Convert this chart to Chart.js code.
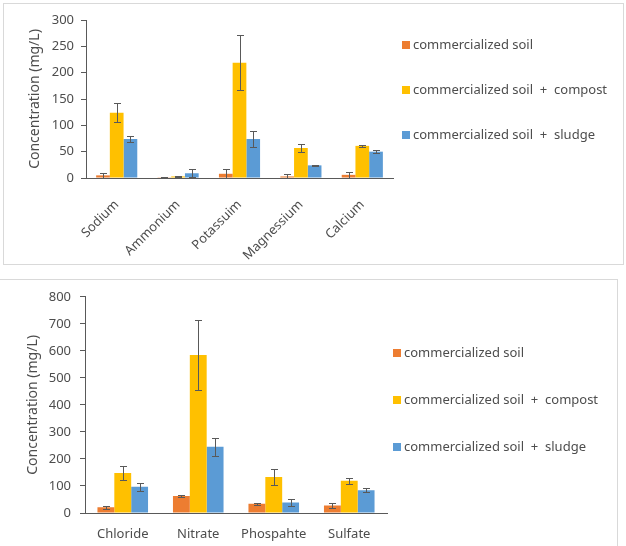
<!DOCTYPE html>
<html>
<head>
<meta charset="utf-8">
<script src="https://cdn.jsdelivr.net/npm/chart.js@4.4.1/dist/chart.umd.min.js"></script>
<style>
  html, body { margin: 0; padding: 0; background: #fff; }
  body { width: 626px; height: 546px; position: relative; overflow: hidden; }
  .frame { position: absolute; border: 1px solid #d9d9d9; box-sizing: border-box; }
  canvas { position: absolute; }
</style>
</head>
<body>
<div class="frame" style="left:3px;top:3px;width:621px;height:262px;"></div>
<div class="frame" style="left:-2px;top:279px;width:620px;height:280px;"></div>
<canvas id="cations" style="left:4px;top:4px;" width="618" height="259"></canvas>
<canvas id="anions" style="left:0px;top:280px;" width="616" height="266"></canvas>
<script>
// series shared by both panels
const seriesNames = ['commercialized soil', 'commercialized soil + compost', 'commercialized soil + sludge'];
const seriesColors = ['#ED7D31', '#FFC000', '#5B9BD5'];

// top panel: cations
const cationLabels = ['Sodium', 'Ammonium', 'Potassuim', 'Magnessium', 'Calcium'];
const cationSoil = [5, 0.5, 8, 3, 6];
const cationSoilErr = [5, 0.5, 9, 4, 6];
const cationCompost = [124, 3, 219, 57, 61];
const cationCompostErr = [18, 1.5, 52, 8, 2];
const cationSludge = [74, 9, 74, 24, 50];
const cationSludgeErr = [6, 8, 16, 1, 3];
const cationMax = 300;
const cationStep = 50;

// bottom panel: anions
const anionLabels = ['Chloride', 'Nitrate', 'Phospahte', 'Sulfate'];
const anionSoil = [21, 63, 34, 28];
const anionSoilErr = [6, 2, 3, 9];
const anionCompost = [148, 585, 133, 119];
const anionCompostErr = [27, 129, 29, 12];
const anionSludge = [97, 245, 39, 84];
const anionSludgeErr = [14, 33, 12, 8];
const anionMax = 800;
const anionStep = 100;

const axisColor = '#595959';
const textColor = '#4d4d4d';
const fontFamily = "'Noto Sans', 'Open Sans', sans-serif";

// error bars drawn on top of the bars, using the chart's own y scale
const errorBars = {
    id: 'errorBars',
    afterDatasetsDraw(chart) {
        const ctx = chart.ctx;
        const yScale = chart.scales.y;
        ctx.save();
        ctx.strokeStyle = '#595959';
        ctx.lineWidth = 1;
        chart.data.datasets.forEach((ds, i) => {
            const meta = chart.getDatasetMeta(i);
            meta.data.forEach((bar, j) => {
                const v = ds.data[j];
                const e = ds.errors[j];
                const yTop = Math.round(yScale.getPixelForValue(v + e)) + 0.5;
                const yBot = Math.round(yScale.getPixelForValue(Math.max(0, v - e))) + 0.5;
                const x = Math.round(bar.x) + 0.5;
                const cap = 3.5;
                ctx.beginPath();
                ctx.moveTo(x, yTop); ctx.lineTo(x, yBot);
                ctx.moveTo(x - cap, yTop); ctx.lineTo(x + cap, yTop);
                ctx.moveTo(x - cap, yBot); ctx.lineTo(x + cap, yBot);
                ctx.stroke();
            });
        });
        ctx.restore();
    }
};

// legend to the right of the plot, Excel style
const sideLegend = {
    id: 'sideLegend',
    afterDraw(chart, args, opts) {
        const ctx = chart.ctx;
        ctx.save();
        ctx.font = '13px ' + fontFamily;
        ctx.textBaseline = 'middle';
        ctx.textAlign = 'left';
        chart.data.datasets.forEach((ds, i) => {
            const y = opts.top + i * opts.spacing;
            ctx.fillStyle = ds.backgroundColor;
            ctx.fillRect(opts.left, Math.round(y - 4), 8, 8);
            ctx.fillStyle = textColor;
            // Excel puts a bit more room around the "+"
            ctx.fillText(ds.label.replace(' + ', '  +  '), opts.left + 11, y);
        });
        ctx.restore();
    }
};

function makeChart(id, labels, values, errors, yMax, yStep, lay) {
    const datasets = values.map((data, i) => ({
        label: seriesNames[i],
        data: data,
        errors: errors[i],
        backgroundColor: seriesColors[i],
        borderWidth: 0,
        categoryPercentage: 0.67,
        barPercentage: 1.0
    }));

    return new Chart(document.getElementById(id), {
        type: 'bar',
        data: { labels, datasets },
        plugins: [errorBars, sideLegend],
        options: {
            responsive: false,
            animation: false,
            events: [],
            layout: { padding: { top: lay.padTop, right: lay.padRight, left: 0, bottom: 0 } },
            plugins: {
                legend: { display: false },
                tooltip: { enabled: false },
                sideLegend: lay.legend
            },
            scales: {
                x: {
                    grid: { display: false, drawTicks: false },
                    border: { color: axisColor, width: 1 },
                    ticks: {
                        color: textColor,
                        font: { family: fontFamily, size: 13 },
                        padding: lay.xPad,
                        minRotation: lay.rotation,
                        maxRotation: lay.rotation,
                        autoSkip: false
                    },
                    afterFit: (s) => { s.height = lay.xHeight; }
                },
                y: {
                    min: 0,
                    max: yMax,
                    grid: { drawOnChartArea: false, tickLength: 5, color: axisColor },
                    border: { color: axisColor, width: 1 },
                    ticks: {
                        stepSize: yStep,
                        color: textColor,
                        font: { family: fontFamily, size: 13 },
                        padding: lay.yPad
                    },
                    title: {
                        display: true,
                        text: 'Concentration (mg/L)',
                        color: textColor,
                        font: { family: fontFamily, size: 14 },
                        padding: { top: lay.titlePad, bottom: 0 }
                    },
                    afterFit: (s) => { s.width = lay.yWidth; }
                }
            }
        }
    });
}

makeChart('cations', cationLabels,
    [cationSoil, cationCompost, cationSludge],
    [cationSoilErr, cationCompostErr, cationSludgeErr],
    cationMax, cationStep,
    { padTop: 16, padRight: 229, yWidth: 82, xHeight: 85, xPad: 19, yPad: 7, titlePad: 23,
      rotation: 45, legend: { left: 398, top: 41, spacing: 45 } });

makeChart('anions', anionLabels,
    [anionSoil, anionCompost, anionSludge],
    [anionSoilErr, anionCompostErr, anionSludgeErr],
    anionMax, anionStep,
    { padTop: 16, padRight: 229, yWidth: 85, xHeight: 33, xPad: 13, yPad: 9, titlePad: 25,
      rotation: 0, legend: { left: 393, top: 73, spacing: 47 } });
</script>
</body>
</html>
